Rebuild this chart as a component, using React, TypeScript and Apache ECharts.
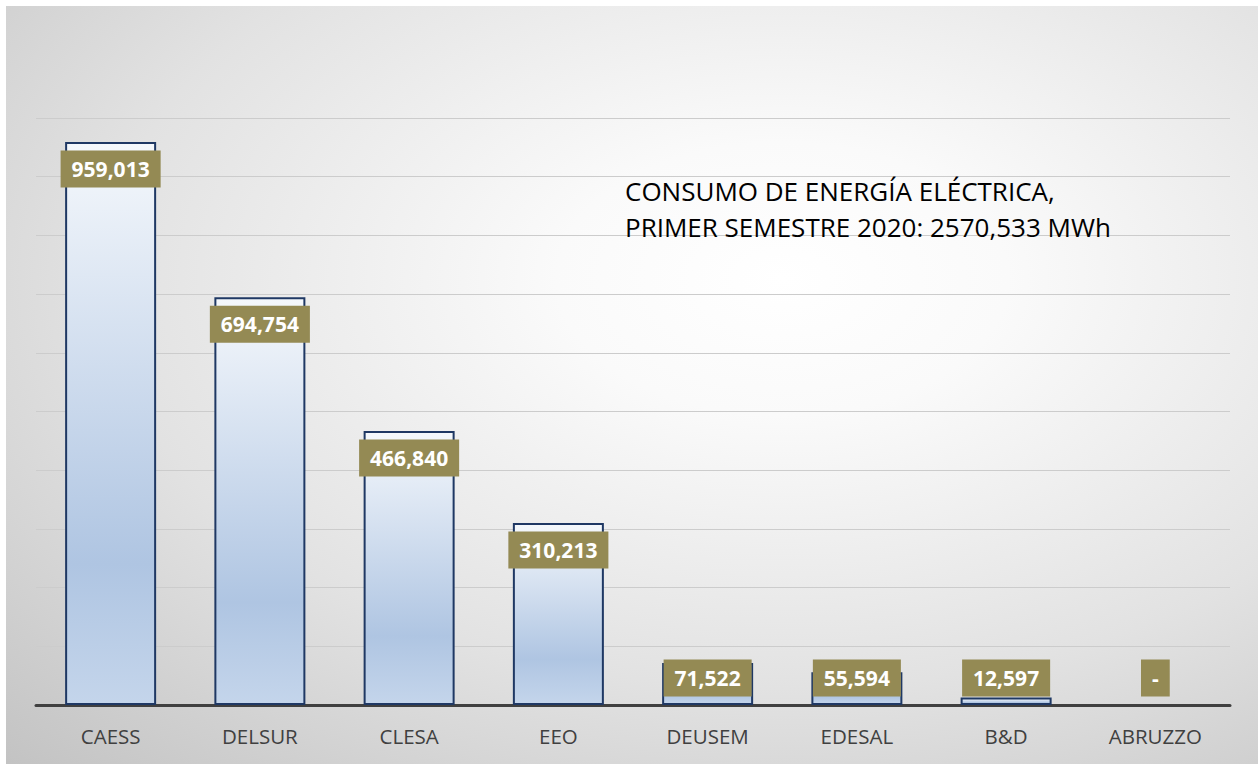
import React, { useEffect, useRef } from "react";
import * as echarts from "echarts";

const categories = ["CAESS", "DELSUR", "CLESA", "EEO", "DEUSEM", "EDESAL", "B&D", "ABRUZZO"];
const values = [959013, 694754, 466840, 310213, 71522, 55594, 12597, 0];
const titleLines = ["CONSUMO DE ENERGÍA ELÉCTRICA,", "PRIMER SEMESTRE 2020: 2570,533 MWh"];
const yMax = 1000000;
const yInterval = 100000;

const fmt = (v: number) => (v === 0 ? "-" : v.toLocaleString("en-US"));

export default function App() {
  const ref = useRef<HTMLDivElement>(null);
  useEffect(() => {
    document.body.style.margin = "0";
    const chart = echarts.init(ref.current!, undefined, { renderer: "svg" });
    const barFill = new echarts.graphic.LinearGradient(0, 0, 0, 1, [
      { offset: 0, color: "#f5f8fc" },
      { offset: 0.75, color: "#afc5e2" },
      { offset: 1, color: "#c4d5eb" },
    ]);
    chart.setOption({
      animation: false,
      backgroundColor: new echarts.graphic.RadialGradient(0.62, 0.36, 0.9, [
        { offset: 0, color: "#ffffff" },
        { offset: 0.2, color: "#fafafa" },
        { offset: 0.6, color: "#e2e2e2" },
        { offset: 1, color: "#c2c2c2" },
      ]),
      grid: { left: 30, right: 28, top: 112, bottom: 59, containLabel: false },
      xAxis: {
        type: "category",
        data: categories,
        axisLine: { show: true, lineStyle: { color: "#404040", width: 3 } },
        axisTick: { show: false },
        axisLabel: { color: "#404040", fontFamily: "Open Sans", fontSize: 20.5, margin: 20 },
      },
      yAxis: {
        type: "value",
        min: 0,
        max: yMax,
        interval: yInterval,
        axisLabel: { show: false },
        axisLine: { show: false },
        axisTick: { show: false },
        splitLine: { show: true, lineStyle: { color: "#cccccc", width: 1 } },
      },
      series: [
        {
          type: "bar",
          data: values.map((v) => (v === 0 ? { value: v, itemStyle: { borderWidth: 0 } } : v)),
          barWidth: 91,
          itemStyle: { color: barFill, borderColor: "#1f3864", borderWidth: 2 },
          z: 2,
        },
        {
          type: "custom",
          data: values.map((v, i) => [i, v]),
          encode: { x: 0, y: 1 },
          z: 5,
          renderItem: (params: any, api: any) => {
            const i = api.value(0);
            const v = api.value(1);
            const top = api.coord([i, v]);
            const base = api.coord([i, 0]);
            const cy = Math.min(top[1] + 27, base[1] - 27);
            return {
              type: "text",
              x: top[0],
              y: cy,
              style: {
                text: fmt(v),
                fill: "#ffffff",
                font: "bold 21px 'Open Sans'",
                align: "center",
                verticalAlign: "middle",
                backgroundColor: "#948a54",
                padding: [8, 11, 8, 11],
              },
            };
          },
        },
      ],
      graphic: [
        {
          type: "text",
          left: 619,
          top: 167,
          z: 10,
          style: {
            text: titleLines.join("\n"),
            fill: "#000000",
            font: "26px 'Open Sans'",
            lineHeight: 36,
          },
        },
      ],
    });
    return () => chart.dispose();
  }, []);
  return (
    <div style={{ position: "fixed", left: 0, top: 0, width: 1258, height: 764, background: "#ffffff" }}>
      <div ref={ref} style={{ position: "absolute", left: 6, top: 6, width: 1252, height: 758 }} />
    </div>
  );
}
